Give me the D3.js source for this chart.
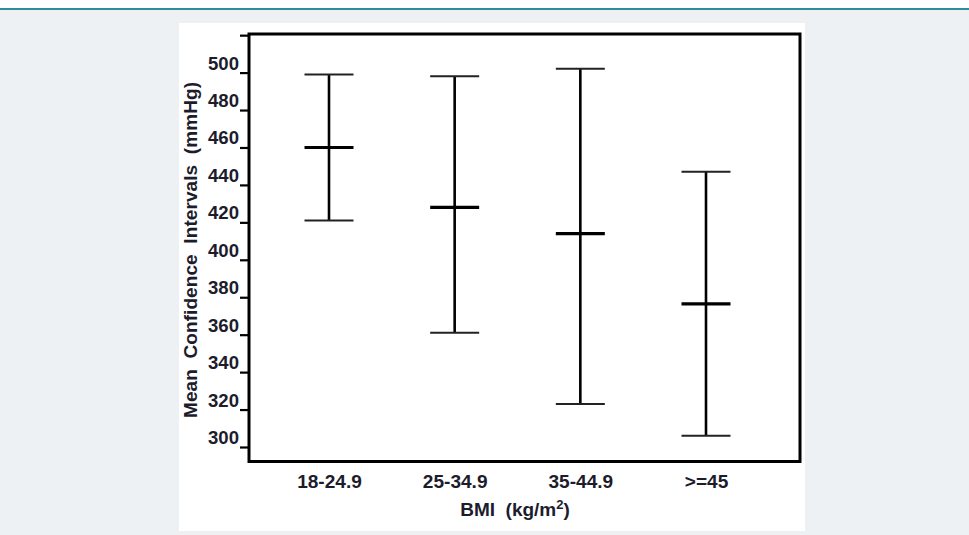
<!DOCTYPE html>
<html><head><meta charset="utf-8">
<script src="https://cdn.jsdelivr.net/npm/d3@7"></script>
<style>
html,body{margin:0;padding:0;background:#fff;}
svg{display:block;}
text{font-family:"Liberation Sans",Arial,sans-serif;font-weight:bold;fill:#1c1c2c;}
</style></head>
<body>
<svg id="c" width="969" height="535"></svg>
<script>
const categories = ["18-24.9", "25-34.9", "35-44.9", ">=45"];
const means = [460, 428, 414, 376.5];
const lowerCI = [421, 361, 323, 306];
const upperCI = [499, 498, 502, 447];
const yTicks = [300, 320, 340, 360, 380, 400, 420, 440, 460, 480, 500, 520];
const yTickLabels = ["300","320","340","360","380","400","420","440","460","480","500",""];
const yTitle = "Mean  Confidence  Intervals  (mmHg)";
const xTitle = "BMI  (kg/m";

const svg = d3.select("#c");
// page background
svg.append("rect").attr("x",0).attr("y",0).attr("width",969).attr("height",535).attr("fill","#edf1f4");
svg.append("rect").attr("x",0).attr("y",0).attr("width",969).attr("height",8).attr("fill","#ffffff");
svg.append("rect").attr("x",0).attr("y",8).attr("width",969).attr("height",2).attr("fill","#2a8c9c");
// white panel
svg.append("rect").attr("x",179).attr("y",23).attr("width",626).attr("height",508).attr("fill","#ffffff");

const frame = {l:249, r:800, t:34, b:461.5};
const y = d3.scaleLinear().domain([300, 500]).range([447, 72.6]);
const x = d3.scalePoint().domain(categories).range([329, 706]);

// y axis
const yAxis = d3.axisLeft(y).tickValues(yTicks).tickSize(9).tickPadding(0)
  .tickFormat((d,i) => yTickLabels[i]);
const gy = svg.append("g").attr("transform", `translate(${frame.l},0)`).call(yAxis);
gy.select(".domain").remove();
gy.selectAll(".tick line").attr("stroke","#000").attr("stroke-width",2.2);
gy.selectAll(".tick text").attr("x",-10).attr("y",-10).attr("dy","0.36em")
  .attr("font-size",18).attr("font-family","Liberation Sans, Arial, sans-serif")
  .attr("font-weight","bold").attr("fill","#1c1c2c");

// frame
svg.append("rect").attr("x",frame.l).attr("y",frame.t)
  .attr("width",frame.r-frame.l).attr("height",frame.b-frame.t)
  .attr("fill","none").attr("stroke","#000").attr("stroke-width",3);

// x labels
const xAxis = d3.axisBottom(x).tickSize(0).tickPadding(0);
const gx = svg.append("g").attr("transform", `translate(0,${frame.b})`).call(xAxis);
gx.select(".domain").remove();
gx.selectAll(".tick text").attr("y",26).attr("dy",0)
  .attr("font-size",18).attr("font-family","Liberation Sans, Arial, sans-serif")
  .attr("font-weight","bold").attr("fill","#1c1c2c");

// stretch text horizontally like the reference
function stretch(sel, f){
  sel.each(function(){
    const w = this.getComputedTextLength();
    if (w>0) d3.select(this).attr("textLength", w*f).attr("lengthAdjust","spacingAndGlyphs");
  });
}
stretch(gy.selectAll(".tick text"), 1.03);
stretch(gx.selectAll(".tick text"), 1.06);

// y title
svg.append("text")
  .attr("transform","translate(197,250) rotate(-90)")
  .attr("text-anchor","middle").attr("font-size",19)
  .attr("textLength",336).attr("lengthAdjust","spacing")
  .style("white-space","pre")
  .text(yTitle);

// x title
const xt = svg.append("text").attr("x",515).attr("y",516).attr("text-anchor","middle")
  .attr("font-size",19).style("white-space","pre");
xt.append("tspan").text(xTitle);
xt.append("tspan").attr("dy",-7).attr("font-size",13).text("2");
xt.append("tspan").attr("dy",7).text(")");

// error bars
const data = categories.map((c,i)=>({c, m:means[i], lo:lowerCI[i], hi:upperCI[i]}));
const half = 24.5;
const g = svg.append("g");
g.selectAll(".stem").data(data).join("line")
  .attr("x1",d=>x(d.c)).attr("x2",d=>x(d.c))
  .attr("y1",d=>y(d.hi)).attr("y2",d=>y(d.lo))
  .attr("stroke","#000").attr("stroke-width",2.6);
g.selectAll(".capT").data(data).join("line")
  .attr("x1",d=>x(d.c)-half).attr("x2",d=>x(d.c)+half)
  .attr("y1",d=>y(d.hi)).attr("y2",d=>y(d.hi))
  .attr("stroke","#222").attr("stroke-width",2);
g.selectAll(".capB").data(data).join("line")
  .attr("x1",d=>x(d.c)-half).attr("x2",d=>x(d.c)+half)
  .attr("y1",d=>y(d.lo)).attr("y2",d=>y(d.lo))
  .attr("stroke","#222").attr("stroke-width",2);
g.selectAll(".mean").data(data).join("line")
  .attr("x1",d=>x(d.c)-half).attr("x2",d=>x(d.c)+half)
  .attr("y1",d=>y(d.m)).attr("y2",d=>y(d.m))
  .attr("stroke","#000").attr("stroke-width",3.2);
</script>
</body></html>
